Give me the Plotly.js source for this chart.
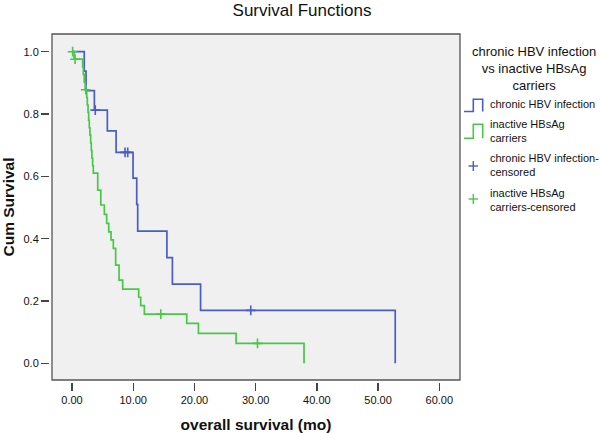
<!DOCTYPE html>
<html>
<head>
<meta charset="utf-8">
<script src="https://cdn.plot.ly/plotly-3.0.1.min.js"></script>
<style>
  html, body { margin: 0; padding: 0; background: #ffffff; }
  #chart { width: 600px; height: 433px; }
</style>
</head>
<body>
<div id="chart"></div>
<script>
// ---- data ----
var chronicTimes = [0, 2.0, 2.29, 3.65, 5.77, 7.2, 9.97, 10.57, 10.73, 15.5, 16.4, 21.0, 52.8];
var chronicSurv  = [1.0, 0.9375, 0.875, 0.8125, 0.746, 0.677, 0.594, 0.510, 0.424, 0.339, 0.254, 0.170, 0];
var chronicCensTimes = [3.8, 8.66, 9.1, 29.2];
var chronicCensSurv  = [0.8125, 0.677, 0.677, 0.170];

var inactiveTimes = [0, 0.33, 1.74, 1.85, 2.0, 2.15, 2.4, 2.5, 2.62, 2.72, 2.82, 2.93, 3.05, 3.15, 3.25, 3.37, 3.48,
                     4.2, 4.7, 5.28, 5.66, 6.0, 6.37, 6.75, 7.13, 7.68, 8.28, 10.89, 11.22, 11.82, 18.74, 20.65, 26.8, 37.9];
var inactiveSurv  = [1.0, 0.976, 0.951, 0.927, 0.902, 0.878, 0.853, 0.829, 0.805, 0.780, 0.756, 0.732, 0.707, 0.683, 0.658, 0.634, 0.610,
                     0.556, 0.508, 0.478, 0.449, 0.422, 0.396, 0.369, 0.315, 0.267, 0.238, 0.212, 0.185, 0.158, 0.128, 0.096, 0.064, 0];
var inactiveCensTimes = [0.1, 0.5, 2.25, 14.5, 30.3];
var inactiveCensSurv  = [1.0, 0.976, 0.878, 0.158, 0.064];

var seriesNames = ['chronic HBV infection', 'inactive HBsAg<br>carriers',
                   'chronic HBV infection-<br>censored', 'inactive HBsAg<br>carriers-censored'];
var legendTitle = 'chronic HBV infection<br>vs inactive HBsAg<br>carriers';
var xTickVals = [0, 10, 20, 30, 40, 50, 60];
var yTickVals = [0, 0.2, 0.4, 0.6, 0.8, 1.0];

// ---- styling ----
var BLUE = '#4a5dc2';
var GREEN = '#48c748';
var FONT = 'Liberation Sans, Arial, sans-serif';

// geometry helpers (pixel -> paper) for legend decorations
var ML = 49, MR = 140, MT = 34, MB = 51, W = 600, H = 433;
var PW = W - ML - MR, PH = H - MT - MB;
function fx(px) { return (px - ML) / PW; }
function fy(py) { return (H - MB - py) / PH; }

var traces = [
  { x: chronicTimes, y: chronicSurv, type: 'scatter', mode: 'lines', line: { shape: 'hv', color: BLUE, width: 1.7 },
    name: seriesNames[0], showlegend: false, hoverinfo: 'skip' },
  { x: inactiveTimes, y: inactiveSurv, type: 'scatter', mode: 'lines', line: { shape: 'hv', color: GREEN, width: 1.7 },
    name: seriesNames[1], showlegend: false, hoverinfo: 'skip' },
  { x: chronicCensTimes, y: chronicCensSurv, type: 'scatter', mode: 'markers',
    marker: { symbol: 'cross-thin', size: 7, line: { color: BLUE, width: 1.6 }, color: BLUE },
    name: seriesNames[2], showlegend: false, hoverinfo: 'skip' },
  { x: inactiveCensTimes, y: inactiveCensSurv, type: 'scatter', mode: 'markers',
    marker: { symbol: 'cross-thin', size: 7, line: { color: GREEN, width: 1.6 }, color: GREEN },
    name: seriesNames[3], showlegend: false, hoverinfo: 'skip' }
];

// manual legend
var shapes = [
  // plot frame
  { type: 'rect', xref: 'paper', yref: 'paper', x0: fx(52), x1: 1, y0: fy(380), y1: 1,
    line: { color: '#555555', width: 1.3 }, fillcolor: 'rgba(0,0,0,0)', layer: 'above' },
  // step icons
  { type: 'path', xref: 'paper', yref: 'paper', layer: 'above',
    path: 'M' + fx(464) + ',' + fy(111.5) + ' L' + fx(473.3) + ',' + fy(111.5) + ' L' + fx(473.3) + ',' + fy(99.3) +
          ' L' + fx(482.7) + ',' + fy(99.3) + ' L' + fx(482.7) + ',' + fy(111.5),
    line: { color: BLUE, width: 1.6 } },
  { type: 'path', xref: 'paper', yref: 'paper', layer: 'above',
    path: 'M' + fx(464) + ',' + fy(138.3) + ' L' + fx(473.3) + ',' + fy(138.3) + ' L' + fx(473.3) + ',' + fy(124.3) +
          ' L' + fx(482.7) + ',' + fy(124.3) + ' L' + fx(482.7) + ',' + fy(138.3),
    line: { color: GREEN, width: 1.6 } },
  // plus icons
  { type: 'line', xref: 'paper', yref: 'paper', x0: fx(468.5), x1: fx(478), y0: fy(166), y1: fy(166), line: { color: BLUE, width: 1.4 } },
  { type: 'line', xref: 'paper', yref: 'paper', x0: fx(473.3), x1: fx(473.3), y0: fy(161), y1: fy(171), line: { color: BLUE, width: 1.4 } },
  { type: 'line', xref: 'paper', yref: 'paper', x0: fx(468.5), x1: fx(478), y0: fy(199), y1: fy(199), line: { color: GREEN, width: 1.4 } },
  { type: 'line', xref: 'paper', yref: 'paper', x0: fx(473.3), x1: fx(473.3), y0: fy(194), y1: fy(204), line: { color: GREEN, width: 1.4 } }
];

var legendFont = { family: FONT, size: 11, color: '#111111' };
var annotations = [
  { xref: 'paper', yref: 'paper', x: fx(533.5), y: fy(68.5), xanchor: 'center', yanchor: 'middle', align: 'center',
    text: legendTitle, showarrow: false, font: { family: FONT, size: 13, color: '#111111' } },
  { xref: 'paper', yref: 'paper', x: fx(488), y: fy(104), xanchor: 'left', yanchor: 'middle', align: 'left',
    text: seriesNames[0], showarrow: false, font: legendFont },
  { xref: 'paper', yref: 'paper', x: fx(488), y: fy(131), xanchor: 'left', yanchor: 'middle', align: 'left',
    text: seriesNames[1], showarrow: false, font: legendFont },
  { xref: 'paper', yref: 'paper', x: fx(488), y: fy(164.5), xanchor: 'left', yanchor: 'middle', align: 'left',
    text: seriesNames[2], showarrow: false, font: legendFont },
  { xref: 'paper', yref: 'paper', x: fx(488), y: fy(199.5), xanchor: 'left', yanchor: 'middle', align: 'left',
    text: seriesNames[3], showarrow: false, font: legendFont }
];

var layout = {
  width: W, height: H,
  margin: { l: ML, r: MR, t: MT, b: MB, pad: 0, autoexpand: false },
  paper_bgcolor: '#ffffff',
  plot_bgcolor: '#f0f0f0',
  showlegend: false,
  font: { family: FONT, color: '#111111' },
  title: { text: 'Survival Functions', font: { family: FONT, size: 17, color: '#111111' },
           xref: 'container', x: 302 / 600, xanchor: 'center', yref: 'container', y: 1 - 10 / 433, yanchor: 'middle' },
  xaxis: {
    domain: [fx(52), 1], anchor: 'free', position: 0,
    range: [-3.27, 63.38], tickvals: xTickVals, tickformat: '.2f',
    showgrid: false, zeroline: false, showline: false,
    ticks: 'outside', ticklen: 8, tickwidth: 1.3, tickcolor: '#444444',
    tickfont: { family: FONT, size: 11, color: '#111111' },
    title: { text: 'overall survival (mo)', font: { family: FONT, size: 15.5, color: '#111111', weight: 'bold' }, standoff: 14 }
  },
  yaxis: {
    domain: [fy(380), 1], anchor: 'free', position: 0,
    range: [-0.0536, 1.0568], tickvals: yTickVals, tickformat: '.1f',
    showgrid: false, zeroline: false, showline: false,
    ticks: 'outside', ticklen: 8, tickwidth: 1.3, tickcolor: '#444444',
    tickfont: { family: FONT, size: 11, color: '#111111' },
    title: { text: 'Cum Survival', font: { family: FONT, size: 15.5, color: '#111111', weight: 'bold' }, standoff: 6 }
  },
  shapes: shapes,
  annotations: annotations
};

Plotly.newPlot('chart', traces, layout, { staticPlot: true, displayModeBar: false });
</script>
</body>
</html>
